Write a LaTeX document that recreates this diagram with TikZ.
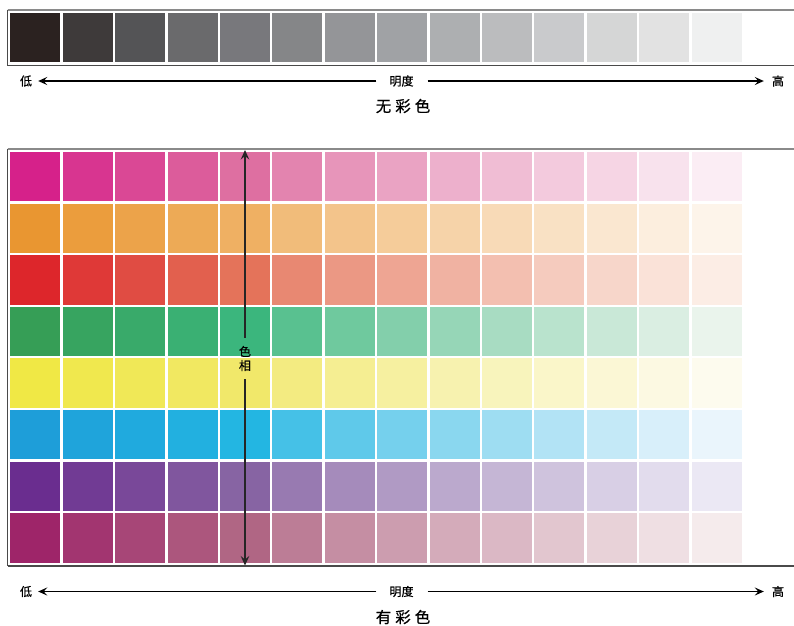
\documentclass[tikz,border=0pt]{standalone}
\usepackage{fontspec}
\setmainfont{Noto Sans CJK SC}
\newfontfamily\cjkmed{Noto Sans CJK SC}[FakeBold=0.6]
\usetikzlibrary{arrows.meta}
% gray ramp
\definecolor{gA}{HTML}{2B2220}
\definecolor{gB}{HTML}{3E3A3A}
\definecolor{gC}{HTML}{545456}
\definecolor{gD}{HTML}{6A6A6C}
\definecolor{gE}{HTML}{78787C}
\definecolor{gF}{HTML}{858688}
\definecolor{gG}{HTML}{949598}
\definecolor{gH}{HTML}{A0A2A5}
\definecolor{gI}{HTML}{ADAFB1}
\definecolor{gJ}{HTML}{BBBCBE}
\definecolor{gK}{HTML}{C9CACC}
\definecolor{gL}{HTML}{D5D6D6}
\definecolor{gM}{HTML}{E2E2E2}
\definecolor{gN}{HTML}{EFF0F0}
% chromatic anchors
\definecolor{magA}{HTML}{D6218A}\definecolor{magB}{HTML}{DE6FA1}\definecolor{magC}{HTML}{FBEDF4}
\definecolor{oraA}{HTML}{E99631}\definecolor{oraB}{HTML}{EFB063}\definecolor{oraC}{HTML}{FDF4EA}
\definecolor{redA}{HTML}{DD262B}\definecolor{redB}{HTML}{E4735A}\definecolor{redC}{HTML}{FCEDE5}
\definecolor{grnA}{HTML}{369E56}\definecolor{grnB}{HTML}{3BB67D}\definecolor{grnC}{HTML}{EAF4EC}
\definecolor{yelA}{HTML}{F0E845}\definecolor{yelB}{HTML}{F1E86A}\definecolor{yelC}{HTML}{FDFBEE}
\definecolor{bluA}{HTML}{1E9ED9}\definecolor{bluB}{HTML}{23B6E2}\definecolor{bluC}{HTML}{EAF5FC}
\definecolor{purA}{HTML}{6A2D8F}\definecolor{purB}{HTML}{8764A3}\definecolor{purC}{HTML}{EBE8F4}
\definecolor{criA}{HTML}{9E2569}\definecolor{criB}{HTML}{B06684}\definecolor{criC}{HTML}{F5EBEC}
\definecolor{frameTop}{HTML}{8A8A8A}
\definecolor{frameDark}{HTML}{4A4A4A}
\begin{document}
\begin{tikzpicture}[x=1pt,y=-1pt,
  lbl/.style={inner sep=0pt, font=\cjkmed\fontsize{12}{13}\selectfont},
  ttl/.style={inner sep=0pt, font=\cjkmed\fontsize{15.5}{17}\selectfont},
  arr/.style={line width=1.4pt, -{Stealth[length=9pt,width=8pt,inset=3.5pt]}},
  varr/.style={line width=1.8pt, color=black!85, -{Stealth[length=9.5pt,width=8.5pt,inset=3.5pt]}},
  topline/.style={draw=frameTop, line width=1.6pt},
  darkline/.style={draw=frameDark, line width=1.1pt}]
\useasboundingbox (0,0) rectangle (794,625);
\fill[white] (0,0) rectangle (794,625);

% ---------- achromatic strip ----------
\foreach \g [count=\c from 0] in {gA,gB,gC,gD,gE,gF,gG,gH,gI,gJ,gK,gL,gM,gN} {
  \fill[\g] ({10.3+\c*52.4},12.6) rectangle ({10.3+\c*52.4+50.1},62.4);
}
\draw[topline] (7.5,10) -- (794,10);
\draw[darkline] (7.5,9.5) -- (7.5,65.5);
\draw[darkline] (7.5,65.5) -- (794,65.5);

% ---------- chromatic grid ----------
\foreach \nm [count=\r from 0] in {mag,ora,red,grn,yel,blu,pur,cri} {
  \foreach \c in {0,...,13} {
    \ifnum\c<5
      \pgfmathtruncatemacro\p{\c*25}
      \colorlet{cellc}{\nm B!\p!\nm A}
    \else
      \pgfmathtruncatemacro\p{100*((\c-4)/9)^0.8}
      \colorlet{cellc}{\nm C!\p!\nm B}
    \fi
    \fill[cellc] ({10.3+\c*52.4},{152+\r*51.6}) rectangle ({10.3+\c*52.4+50.1},{152+\r*51.6+49.4});
  }
}
\draw[topline] (7.5,149) -- (794,149);
\draw[darkline] (7.5,148.5) -- (7.5,566);
\draw[darkline] (7.5,566) -- (794,566);

% ---------- hue axis ----------
\node[lbl, align=center, minimum height=41pt] (hue) at (245,358.5) {色\\[1pt]相};
\coordinate (hueTop) at (245,150);
\coordinate (hueBot) at (245,565.5);
\draw[varr] (hue.north) -- (hueTop);
\draw[varr] (hue.south) -- (hueBot);

% ---------- lightness axis (top) ----------
\node[lbl] (lowA) at (26,81) {低};
\node[lbl] (mdA) at (401.5,81) {明度};
\node[lbl] (highA) at (778,81) {高};
\draw[arr] ([xshift=-13pt]mdA.west) -- ([xshift=6pt]lowA.east);
\draw[arr] ([xshift=14pt]mdA.east) -- ([xshift=-8pt]highA.west);
\node[ttl] (titleA) at (403,106) {无\kern4pt彩\kern4pt色};

% ---------- lightness axis (bottom) ----------
\node[lbl] (lowB) at (26,591.5) {低};
\node[lbl] (mdB) at (401.5,591.5) {明度};
\node[lbl] (highB) at (778,591.5) {高};
\draw[arr] ([xshift=-13pt]mdB.west) -- ([xshift=6pt]lowB.east);
\draw[arr] ([xshift=14pt]mdB.east) -- ([xshift=-8pt]highB.west);
\node[ttl] (titleB) at (403,617) {有\kern4pt彩\kern4pt色};
\end{tikzpicture}
\end{document}
